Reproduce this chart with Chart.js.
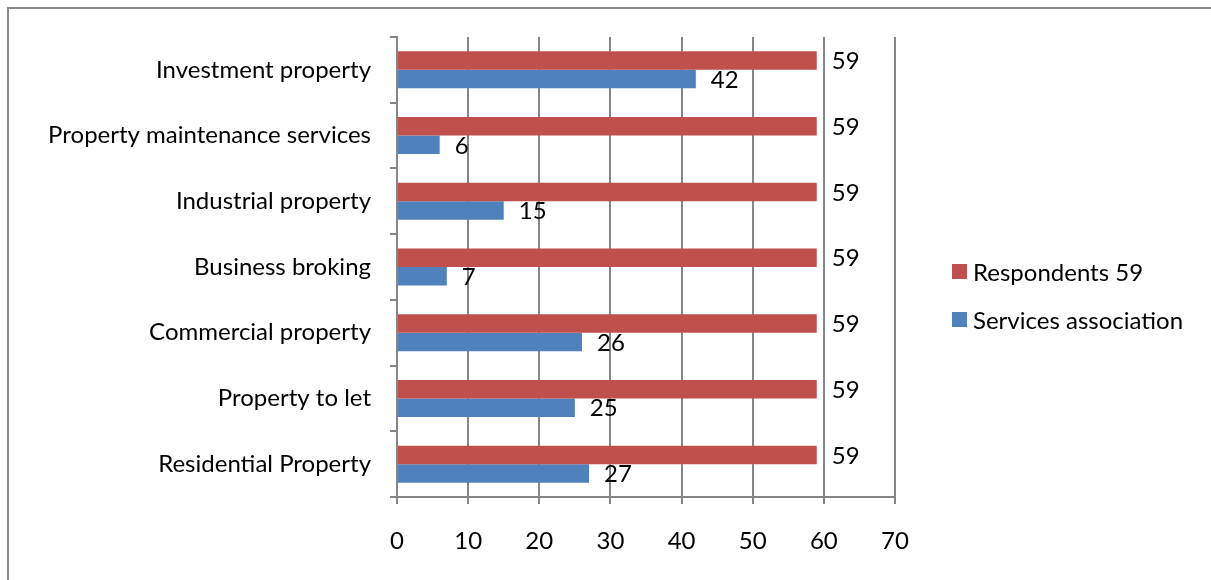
<!DOCTYPE html>
<html>
<head>
<meta charset="utf-8">
<script src="https://cdn.jsdelivr.net/npm/chart.js@4.4.0/dist/chart.umd.min.js"></script>
<style>
  body { margin: 0; background: #fff; overflow: hidden; }
  #wrap { position: relative; width: 1211px; height: 580px; }
  #frame { position: absolute; left: 7px; top: 7px; width: 1300px; height: 700px; border: 2px solid #8a8a8a; box-sizing: border-box; }
  #legend { position: absolute; left: 952px; top: 259px; font: 24px Lato, sans-serif; color: #000; }
  #legend div { display: flex; align-items: center; height: 24px; margin-bottom: 24px; }
  #legend span.box { width: 15px; height: 15px; margin-right: 6px; display: inline-block; }
</style>
</head>
<body>
<div id="wrap">
  <div id="frame"></div>
  <canvas id="barChart" width="1211" height="580"></canvas>
  <div id="legend"></div>
</div>
<script>
// Chart data
const categories = [
    'Investment property',
    'Property maintenance services',
    'Industrial property',
    'Business broking',
    'Commercial property',
    'Property to let',
    'Residential Property'
];
const respondents = [59, 59, 59, 59, 59, 59, 59];
const servicesAssociation = [42, 6, 15, 7, 26, 25, 27];
const xTicks = [0, 10, 20, 30, 40, 50, 60, 70];

const gridColor = '#868686';
const font = { family: 'Lato', size: 24 };

// Value labels next to each bar
const valueLabels = {
    id: 'valueLabels',
    afterDatasetsDraw(chart) {
        const c = chart.ctx;
        c.save();
        c.font = '24px Lato';
        c.fillStyle = '#000';
        c.textAlign = 'left';
        c.textBaseline = 'middle';
        chart.data.datasets.forEach((ds, i) => {
            chart.getDatasetMeta(i).data.forEach((bar, j) => {
                c.fillText(ds.data[j], bar.x + 15, bar.y + 1);
            });
        });
        c.restore();
    }
};

const data = {
    labels: categories,
    datasets: [
        {
            label: 'Respondents 59',
            data: respondents,
            backgroundColor: '#C0504D',
            categoryPercentage: 0.563,
            barPercentage: 1
        },
        {
            label: 'Services association',
            data: servicesAssociation,
            backgroundColor: '#4F81BD',
            categoryPercentage: 0.563,
            barPercentage: 1
        }
    ]
};

const config = {
    type: 'bar',
    data: data,
    options: {
        indexAxis: 'y',
        responsive: false,
        animation: false,
        layout: { padding: { top: 37, right: 316, left: 0, bottom: 0 } },
        plugins: {
            legend: { display: false },
            tooltip: { enabled: false }
        },
        scales: {
            x: {
                min: xTicks[0],
                max: xTicks[xTicks.length - 1],
                afterBuildTicks(scale) {
                    scale.ticks = xTicks.map(v => ({ value: v }));
                },
                afterFit(scale) { scale.height = 83; },
                grid: { color: gridColor, lineWidth: 2, tickLength: 7 },
                border: { color: gridColor, width: 2 },
                ticks: { color: '#000', font: font, padding: 23 }
            },
            y: {
                afterFit(scale) { scale.width = 397; },
                grid: { color: gridColor, lineWidth: 2, drawOnChartArea: false, tickLength: 7, offset: true },
                border: { color: gridColor, width: 2 },
                ticks: { color: '#000', font: font, padding: 19 }
            }
        }
    },
    plugins: [valueLabels]
};

const ctx = document.getElementById('barChart').getContext('2d');
const chart = new Chart(ctx, config);

// Legend built from the datasets
const legend = document.getElementById('legend');
data.datasets.forEach(ds => {
    const row = document.createElement('div');
    row.innerHTML = '<span class="box" style="background:' + ds.backgroundColor + '"></span>' + ds.label;
    legend.appendChild(row);
});
</script>
</body>
</html>
